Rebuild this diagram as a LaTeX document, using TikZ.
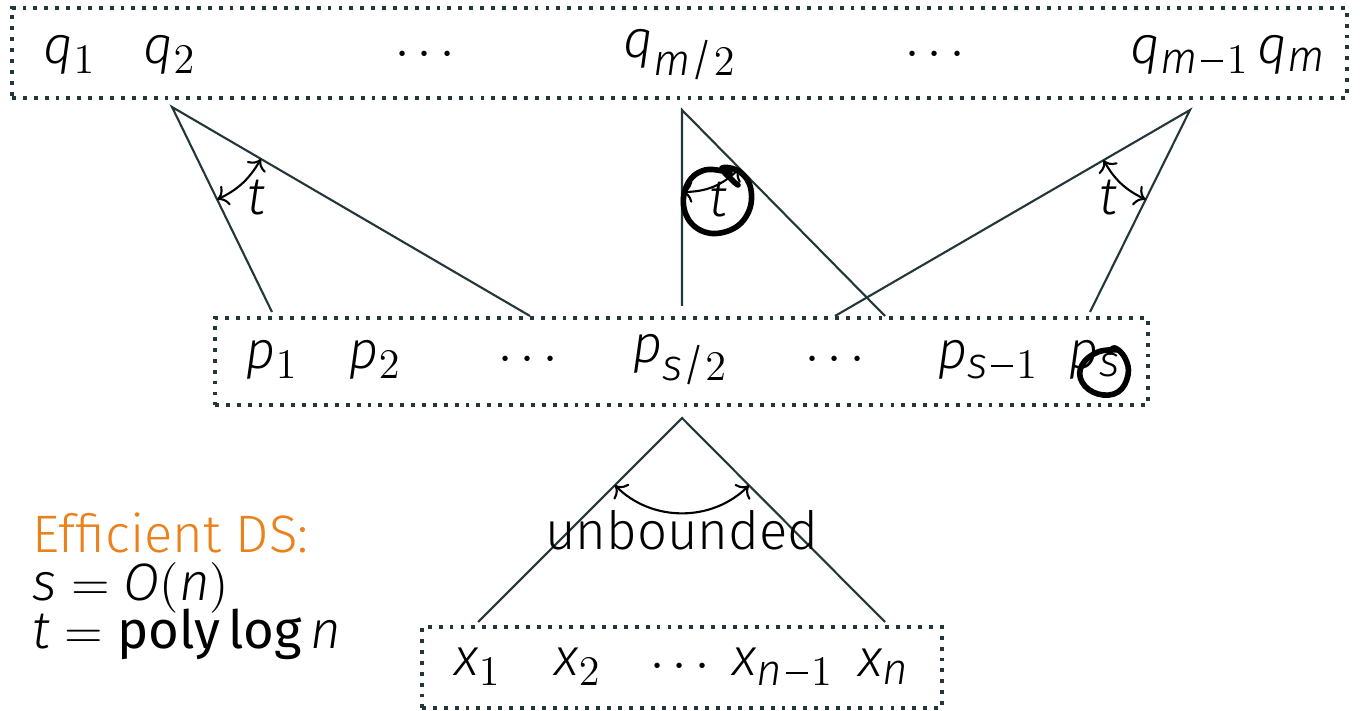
\documentclass[tikz,border=0pt]{standalone}
\usepackage{fontspec}
\setmainfont{Fira Sans Light}[ItalicFont=Fira Sans Light Italic, BoldFont=Fira Sans]
\usepackage[italic]{mathastext}
\usepackage{amstext}
\usepackage{tikz}
\usetikzlibrary{arrows.meta, positioning, calc}
\definecolor{mteal}{HTML}{23373B}
\definecolor{morange}{HTML}{EB811B}
\newcommand{\mmin}{\text{\kern0.08em\rule[0.26em]{0.5em}{0.045em}\kern0.08em}}
\tikzset{
  dotbox/.style={draw=mteal, dotted, line width=1.1pt, inner sep=0pt},
  lbl/.style={font=\fontsize{15}{18}\selectfont, inner sep=1pt},
  link/.style={draw=mteal, line width=0.6pt},
  tarc/.style={<->, line width=0.6pt, black},
  scrib/.style={line width=1.6pt, black, line cap=round, line join=round}
}

\begin{document}
\begin{tikzpicture}[x=1cm, y=1cm]
\useasboundingbox (0,0) rectangle (13.6,7.1);
% the three rows
\node[dotbox, minimum width=13.35cm, minimum height=0.9cm] (qbox) at (6.795,6.57) {};
\node[dotbox, minimum width=9.33cm, minimum height=0.87cm] (pbox) at (6.815,3.485) {};
\node[dotbox, minimum width=5.2cm, minimum height=0.81cm] (xbox) at (6.82,0.425) {};
\node[lbl] (q1) at (0.70,6.55) {$q_1$};
\node[lbl] (q2) at (1.70,6.55) {$q_2$};
\node[lbl] (qdl) at (4.25,6.55) {$\cdots$};
\node[lbl] (qmid) at (6.80,6.55) {$q_{m/2}$};
\node[lbl] (qdr) at (9.35,6.55) {$\cdots$};
\node[lbl] (qm1) at (11.90,6.55) {$q_{m\mmin1}$};
\node[lbl] (qm) at (12.92,6.55) {$q_m$};
\node[lbl] (p1) at (2.72,3.50) {$p_1$};
\node[lbl] (p2) at (3.75,3.50) {$p_2$};
\node[lbl] (pdl) at (5.28,3.50) {$\cdots$};
\node[lbl] (pmid) at (6.80,3.50) {$p_{s/2}$};
\node[lbl] (pdr) at (8.35,3.50) {$\cdots$};
\node[lbl] (ps1) at (9.88,3.50) {$p_{s\mmin1}$};
\node[lbl] (ps) at (10.95,3.50) {$p_s$};
\node[lbl] (x1) at (4.78,0.43) {$x_1$};
\node[lbl] (x2) at (5.78,0.43) {$x_2$};
\node[lbl] (xd) at (6.80,0.43) {$\cdots$};
\node[lbl] (xn1) at (7.83,0.43) {$x_{n\mmin1}$};
\node[lbl] (xn) at (8.84,0.43) {$x_n$};
% fans
\coordinate (aq2) at (1.72,6.03);
\coordinate (eq2a) at (2.72,3.98);
\coordinate (eq2b) at (5.30,3.94);
\coordinate (aqm) at (6.82,6.00);
\coordinate (eqma) at (6.82,4.04);
\coordinate (eqmb) at (8.85,3.94);
\coordinate (aqr) at (11.90,6.00);
\coordinate (eqra) at (8.35,3.94);
\coordinate (eqrb) at (10.90,3.98);
\coordinate (ap) at (6.82,2.92);
\coordinate (epa) at (4.78,0.88);
\coordinate (epb) at (8.85,0.88);
\draw[link] (eq2a) -- (aq2) -- (eq2b);
\draw[link] (eqma) -- (aqm) -- (eqmb);
\draw[link] (eqra) -- (aqr) -- (eqrb);
\draw[link] (epa) -- (ap) -- (epb);
% angle arcs
\draw[tarc] ($(aq2)!1.03cm!(eq2a)$) to[bend right=17] ($(aq2)!1.03cm!(eq2b)$);
\draw[tarc] ($(aqm)!0.82cm!(eqma)$) to[bend right=22] ($(aqm)!0.82cm!(eqmb)$);
\draw[tarc] ($(aqr)!1.0cm!(eqra)$) to[bend right=17] ($(aqr)!1.0cm!(eqrb)$);
\draw[tarc] ($(ap)!0.95cm!(epa)$) to[bend right=45] ($(ap)!0.95cm!(epb)$);
\node[lbl] (tl) at (2.56,5.12) {$t$};
\node[lbl] (tm) at (7.18,5.10) {$t$};
\node[lbl] (tr) at (11.08,5.12) {$t$};
\node[lbl] (unb) at (6.82,1.80) {unbounded};
% ink marks
\draw[scrib] plot[smooth, tension=0.7] coordinates {(7.30,5.37) (7.05,5.40) (6.87,5.25) (6.85,4.98) (7.02,4.79) (7.28,4.79) (7.47,4.95) (7.51,5.20) (7.40,5.38) (7.22,5.42) (7.32,5.30) (7.38,5.25)};
\draw[scrib] plot[smooth, tension=0.7] coordinates {(11.18,3.60) (10.98,3.58) (10.82,3.45) (10.82,3.28) (10.98,3.16) (11.18,3.18) (11.28,3.35) (11.25,3.52) (11.15,3.62) (11.10,3.58)};
% summary
\node[lbl, inner sep=0pt, anchor=base west, text=morange] (eff) at (0.32,1.57) {Efficient DS:};
\node[lbl, inner sep=0pt, anchor=base west] (sval) at (0.32,1.10) {$s=O(n)$};
\node[lbl, inner sep=0pt, anchor=base west] (tval) at (0.32,0.62) {$t=\textbf{poly}\,\textbf{log}\, n$};
\end{tikzpicture}
\end{document}
